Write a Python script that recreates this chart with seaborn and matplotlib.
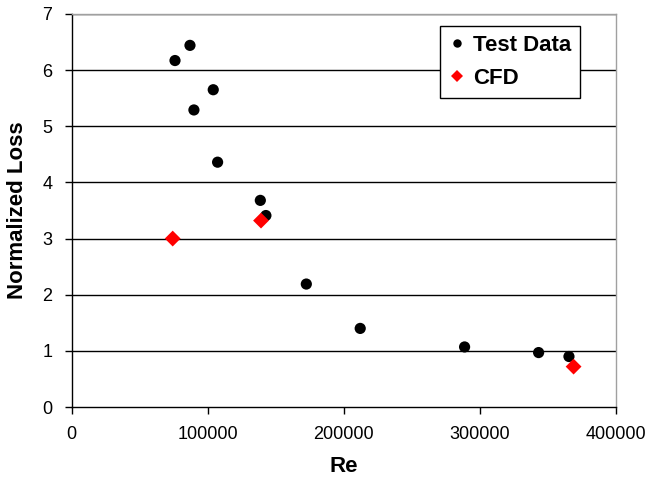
import matplotlib
matplotlib.use("Agg")
import matplotlib.pyplot as plt
import seaborn as sns
import pandas as pd

test_re = [76000, 87000, 89900, 104100, 107300, 138700, 142800, 172500, 212100, 288800, 343200, 365500]
test_loss = [6.17, 6.44, 5.29, 5.65, 4.36, 3.68, 3.41, 2.19, 1.40, 1.07, 0.97, 0.90]
cfd_re = [74300, 139200, 368900]
cfd_loss = [3.00, 3.32, 0.72]
x_ticks = [0, 100000, 200000, 300000, 400000]
y_ticks = [0, 1, 2, 3, 4, 5, 6, 7]

sns.set_style("white")
plt.rcParams['font.family'] = ['Liberation Sans', 'DejaVu Sans']
plt.rcParams['text.color'] = 'black'
plt.rcParams['axes.labelcolor'] = 'black'
plt.rcParams['xtick.color'] = 'black'
plt.rcParams['ytick.color'] = 'black'

df = pd.concat([
    pd.DataFrame({"Re": test_re, "Loss": test_loss, "Series": "Test Data"}),
    pd.DataFrame({"Re": cfd_re, "Loss": cfd_loss, "Series": "CFD"}),
])

fig = plt.figure(figsize=(6.49, 4.80), dpi=100)
ax = fig.add_axes([0.1103, 0.152, 0.8387, 0.819])

for y in y_ticks[1:]:
    ax.axhline(y, color="black", lw=1.0, zorder=1)

sns.scatterplot(data=df, x="Re", y="Loss", hue="Series", style="Series",
                palette={"Test Data": "black", "CFD": "#ff0000"},
                markers={"Test Data": "o", "CFD": "D"},
                s=65, edgecolor="none", linewidth=0, ax=ax, zorder=3)

ax.set_xlim(0, 400000)
ax.set_ylim(0, 7)
ax.set_xticks(x_ticks)
ax.set_yticks(y_ticks)
ax.set_xticklabels([str(v) for v in x_ticks], fontsize=13)
ax.set_yticklabels([str(v) for v in y_ticks], fontsize=13)
ax.tick_params(axis="x", direction="out", length=5, width=1, bottom=True, pad=9)
ax.tick_params(axis="y", direction="out", length=5, width=1, left=True, pad=9)
for side in ["left", "bottom"]:
    ax.spines[side].set_color("black")
    ax.spines[side].set_linewidth(1.0)
for side in ["right", "top"]:
    ax.spines[side].set_color("#a0a0a0")
    ax.spines[side].set_linewidth(1.0)

ax.set_xlabel("Re", fontsize=16, fontweight="bold", labelpad=9)
ax.set_ylabel("Normalized Loss", fontsize=16, fontweight="bold", labelpad=10)

leg = ax.legend(loc="upper right", bbox_to_anchor=(0.934, 0.970), frameon=True, fancybox=False,
                edgecolor="black", framealpha=1, fontsize=16, handletextpad=0.3,
                borderpad=0.4, labelspacing=0.55, markerscale=0.75, handlelength=0.8,
                borderaxespad=0)
leg.get_frame().set_linewidth(1.0)
leg.set_zorder(5)
for t in leg.get_texts():
    t.set_fontweight("bold")

fig.savefig("out.png", dpi=100, facecolor="white")
